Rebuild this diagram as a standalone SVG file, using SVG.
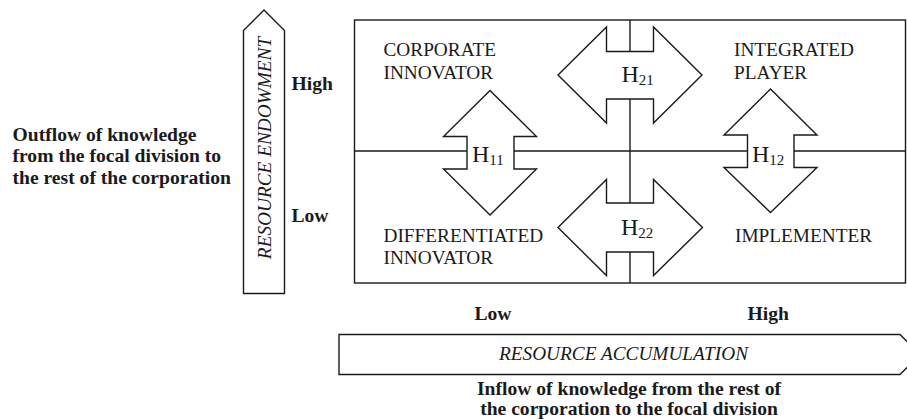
<svg xmlns="http://www.w3.org/2000/svg" width="907" height="419" viewBox="0 0 907 419">
  <style>
    .ln { fill: none; stroke: #1a1a1a; stroke-width: 1.4; }
    .arw { fill: #ffffff; stroke: #1a1a1a; stroke-width: 1.4; stroke-linejoin: miter; }
    .t { font-family: "Liberation Serif", "Times New Roman", serif; fill: #1a1a1a; }
    .q { font-size: 19.3px; }
    .b { font-size: 19.6px; font-weight: bold; }
    .i { font-size: 19.3px; font-style: italic; }
    .h { font-size: 24px; }
  </style>
  <rect width="907" height="419" fill="#ffffff"/>

  <!-- axis: resource endowment (vertical, pointing up) -->
  <g id="axis-endowment">
    <path class="arw" d="M243.5,293.5 V30.5 L264,10 L284.5,30.5 V293.5 Z"/>
    <text class="t i" transform="translate(271,148) rotate(-90)" text-anchor="middle">RESOURCE ENDOWMENT</text>
    <text class="t b" x="291.5" y="89.5">High</text>
    <text class="t b" x="291.5" y="222">Low</text>
  </g>

  <g id="outflow-label">
    <text class="t b" x="12.5" y="140.5">Outflow of knowledge</text>
    <text class="t b" x="12.5" y="162">from the focal division to</text>
    <text class="t b" x="12.5" y="183.5">the rest of the corporation</text>
  </g>

  <!-- axis: resource accumulation (horizontal, pointing right) -->
  <g id="axis-accumulation">
    <path class="arw" d="M339,334.5 H900 L920,354.5 L900,374.5 H339 Z"/>
    <text class="t i" x="623.5" y="360" text-anchor="middle">RESOURCE ACCUMULATION</text>
    <text class="t b" x="474.5" y="320">Low</text>
    <text class="t b" x="747.5" y="320">High</text>
  </g>

  <g id="inflow-label">
    <text class="t b" x="629" y="394.5" text-anchor="middle">Inflow of knowledge from the rest of</text>
    <text class="t b" x="629" y="415" text-anchor="middle">the corporation to the focal division</text>
  </g>

  <!-- 2x2 matrix frame and dividers -->
  <g id="matrix">
    <rect class="ln" x="354.5" y="20" width="551" height="263"/>
    <line class="ln" x1="630" y1="20" x2="630" y2="283"/>
    <line class="ln" x1="354.5" y1="151" x2="905.5" y2="151"/>
  </g>

  <g id="quadrant-corporate-innovator">
    <text class="t q" x="383.5" y="56">CORPORATE</text>
    <text class="t q" x="383.5" y="78.5">INNOVATOR</text>
  </g>
  <g id="quadrant-integrated-player">
    <text class="t q" x="734" y="56">INTEGRATED</text>
    <text class="t q" x="734" y="78.5">PLAYER</text>
  </g>
  <g id="quadrant-differentiated-innovator">
    <text class="t q" x="383.5" y="241.5">DIFFERENTIATED</text>
    <text class="t q" x="383.5" y="263.5">INNOVATOR</text>
  </g>
  <g id="quadrant-implementer">
    <text class="t q" x="735" y="241.5">IMPLEMENTER</text>
  </g>

  <!-- hypothesis arrows -->
  <g id="connectors">
    <g id="h11">
      <polygon class="arw" points="490,90.5 536.5,136.5 514,136.5 514,169 536.5,169 490,215 443.5,169 467,169 467,136.5 443.5,136.5"/>
      <text class="t h" x="472" y="162">H<tspan font-size="15" dy="3">11</tspan></text>
    </g>
    <g id="h12">
      <polygon class="arw" points="770.5,89 817,135 794,135 794,167.5 817,167.5 770.5,212.5 724,167.5 747.5,167.5 747.5,135 724,135"/>
      <text class="t h" x="752" y="162">H<tspan font-size="15" dy="3">12</tspan></text>
    </g>
    <g id="h21">
      <polygon class="arw" points="558,75 606.5,27 606.5,51.5 653.5,51.5 653.5,27 702,75 653.5,123 653.5,99 606.5,99 606.5,123"/>
      <text class="t h" x="621.5" y="82">H<tspan font-size="15" dy="3">21</tspan></text>
    </g>
    <g id="h22">
      <polygon class="arw" points="558,227.5 606.5,179.5 606.5,203 653.5,203 653.5,179.5 702.5,227.5 653.5,275.5 653.5,252 606.5,252 606.5,275.5"/>
      <text class="t h" x="621" y="235">H<tspan font-size="15" dy="3">22</tspan></text>
    </g>
  </g>
</svg>
